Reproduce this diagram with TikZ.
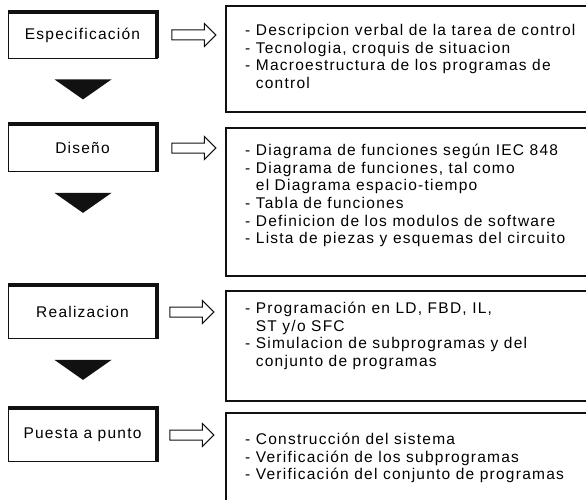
\documentclass[tikz,border=0pt]{standalone}
\usepackage{fontspec}
\usepackage{tikz}
\usetikzlibrary{positioning,shapes.arrows,calc}
\newfontfamily\scanfont{Liberation Sans}[LetterSpace=8]
\definecolor{ink}{HTML}{111111}
\tikzset{
  stagebox/.style={draw=ink,line width=0.8pt,minimum width=149pt,minimum height=47pt,
                   inner sep=0pt,font=\scanfont\fontsize{15.5}{17.5}\selectfont},
  stageedge/.style={draw=ink,line width=4pt},
  hollowarr/.style={single arrow,draw=ink,line width=1pt,minimum height=44pt,
                    inner xsep=0pt,inner ysep=4.5pt,single arrow head extend=6.5pt},
  notelist/.style={anchor=north west,align=left,inner sep=0pt,
                   font=\scanfont\fontsize{15.5}{17.6}\selectfont,
                   execute at begin node=\strut},
  noteframe/.style={draw=ink,line width=1.1pt}
}
\newcommand{\cont}{\hphantom{- }}

\begin{document}
\begin{tikzpicture}[x=1pt,y=-1pt]
  \useasboundingbox (0,0) rectangle (586,500);
  \node[stagebox,minimum height=46pt] (espec) at (82.5,35) {Especificación};
  \node[stagebox] (diseno) at (82.5,148) {Diseño};
  \node[stagebox,minimum height=53pt] (realiz) at (82.5,312) {Realizacion};
  \node[stagebox,minimum height=53pt] (puesta) at (82.5,435) {Puesta a punto};
  \foreach \s in {espec,diseno,realiz,puesta}
    \draw[stageedge] (\s.north west) -- (\s.north east) -- (\s.south east);
  \foreach \s in {espec,diseno,realiz}
    \fill[ink] ($(\s.south)+(-28,21)$) -- ++(57,0) -- ++(-28.5,20) -- cycle;

  \node[hollowarr,right=14pt of espec] (arr1) {};
  \node[hollowarr,right=14pt of diseno] (arr2) {};
  \node[hollowarr,right=12pt of realiz] (arr3) {};
  \node[hollowarr,right=12pt of puesta] (arr4) {};

  \draw[noteframe] (586,6) -| (226,112) -- (586,112);
  \draw[noteframe] (586,128) -| (226,276) -- (586,276);
  \draw[noteframe] (586,291) -| (226,401) -- (586,401);
  \draw[noteframe] (586,413) -| (226,500);

  \node[notelist] (desc1) at (245,24) {- Descripcion verbal de la tarea de control\\
    - Tecnologia, croquis de situacion\\
    - Macroestructura de los programas de\\
    \cont control};
  \node[notelist] (desc2) at (245,144) {- Diagrama de funciones según IEC 848\\
    - Diagrama de funciones, tal como\\
    \cont el Diagrama espacio-tiempo\\
    - Tabla de funciones\\
    - Definicion de los modulos de software\\
    - Lista de piezas y esquemas del circuito};
  \node[notelist] (desc3) at (245,302) {- Programación en LD, FBD, IL,\\
    \cont ST y/o SFC\\
    - Simulacion de subprogramas y del\\
    \cont conjunto de programas};
  \node[notelist] (desc4) at (245,433) {- Construcción del sistema\\
    - Verificación de los subprogramas\\
    - Verificación del conjunto de programas};
\end{tikzpicture}
\end{document}
